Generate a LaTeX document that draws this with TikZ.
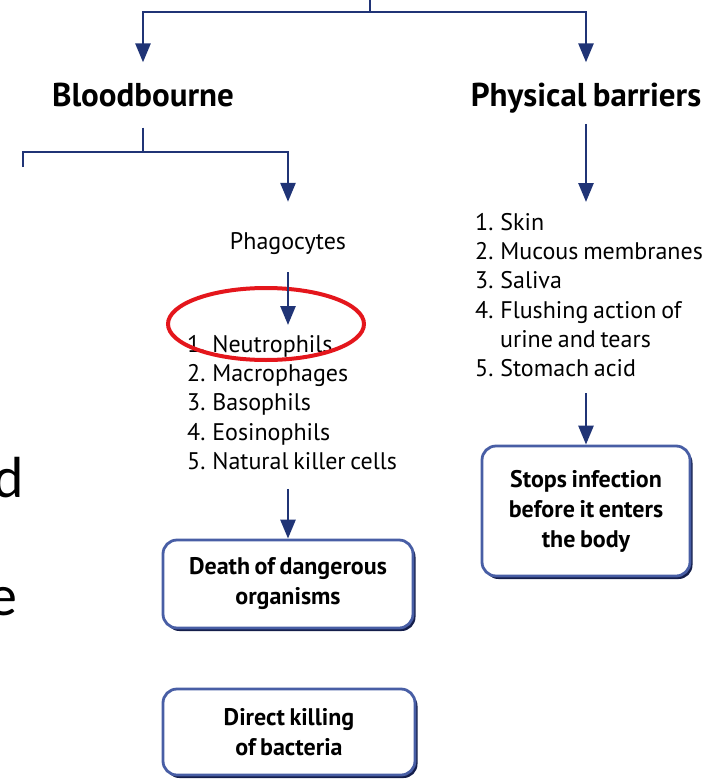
\documentclass[tikz,border=0pt]{standalone}
\usepackage{fontspec}
\setmainfont{PT Sans}[WordSpace=0.75]
\newfontfamily\fragfont{Carlito}
\usepackage{xcolor}
\usepackage{tikz}
\usetikzlibrary{arrows.meta,positioning,shadows,shapes.geometric}
\definecolor{arrowblue}{RGB}{32,52,118}
\definecolor{boxblue}{RGB}{72,94,165}
\definecolor{boxdark}{RGB}{20,30,75}
\definecolor{markred}{RGB}{228,22,28}

\begin{document}
\begin{tikzpicture}[
  x=1pt, y=-1pt,
  line/.style={draw=arrowblue,line width=2.7pt},
  arr/.style={line,-{Triangle[width=15pt,length=19pt]}},
  head/.style={inner sep=0pt,anchor=base,font=\fontsize{33}{38}\selectfont\bfseries},
  item/.style={inner sep=0pt,align=left,font=\fontsize{24}{29.3}\selectfont},
  frag/.style={inner sep=0pt,anchor=base east,font=\fragfont\fontsize{58}{60}\selectfont},
  box/.style={draw=boxblue,line width=2.8pt,rounded corners=14pt,fill=white,align=center,inner sep=0pt,
    font=\fontsize{24}{30}\selectfont\bfseries,
    drop shadow={shadow xshift=2.5pt,shadow yshift=-3pt,fill=boxdark,opacity=1}}
]
\useasboundingbox (0,0) rectangle (717,779);

% cut-off text on the left
\node[frag] (fragd) at (24,497) {d};
\node[frag] (frage) at (18,615) {e};

% headings
\node[head] (blood) at (143,106) {Bloodbourne};
\node[head] (barrier) at (586,106) {Physical barriers};

% bloodbourne branch
\node[item,anchor=base] (phago) at (288,249) {Phagocytes};
\node[item,anchor=north west] (cells) at (187,335) {1. Neutrophils\\2. Macrophages\\3. Basophils\\4. Eosinophils\\5. Natural killer cells};
\node[ellipse,draw=markred,line width=4pt,minimum width=196pt,minimum height=72pt] (mark) at (266,324) {};
\node[box,minimum width=250pt,minimum height=88pt] (death) at (288,584) {Death of dangerous\\organisms};
\node[box,minimum width=252pt,minimum height=86pt] (direct) at (289,732) {Direct killing\\of bacteria};

% barrier branch
\node[item,anchor=north west] (defence) at (475,213) {1. Skin\\2. Mucous membranes\\3. Saliva\\4. Flushing action of\\\hspace*{25pt}urine and tears\\5. Stomach acid};
\node[box,minimum width=208pt,minimum height=130pt] (stops) at (586,511) {Stops infection\\before it enters\\the body};

% connectors
\coordinate (top) at (370,0);
\coordinate (split) at (370,12);
\coordinate (bsplit) at (143,152);
\coordinate (lstub) at (23,167);
\draw[line] (top) -- (split);
\draw[arr,shorten >=20pt] (split) -| (blood.north);
\draw[arr,shorten >=20pt] (split) -| (barrier.north);
\draw[line,shorten <=21pt] (blood.south) -- (bsplit);
\draw[line] (lstub) |- (bsplit);
\draw[arr,shorten >=30pt] (bsplit) -| (phago.north);
\draw[arr,shorten <=18pt,shorten >=10pt] (phago.south) -- (phago.south |- cells.north);
\draw[arr,shorten <=19pt] (phago.south |- cells.south) -- (death);
\draw[arr,shorten <=11pt,shorten >=11pt] (barrier.south) -- (barrier.south |- defence.north);
\draw[arr,shorten <=16pt] (barrier.south |- defence.south) -- (stops);
\end{tikzpicture}
\end{document}
